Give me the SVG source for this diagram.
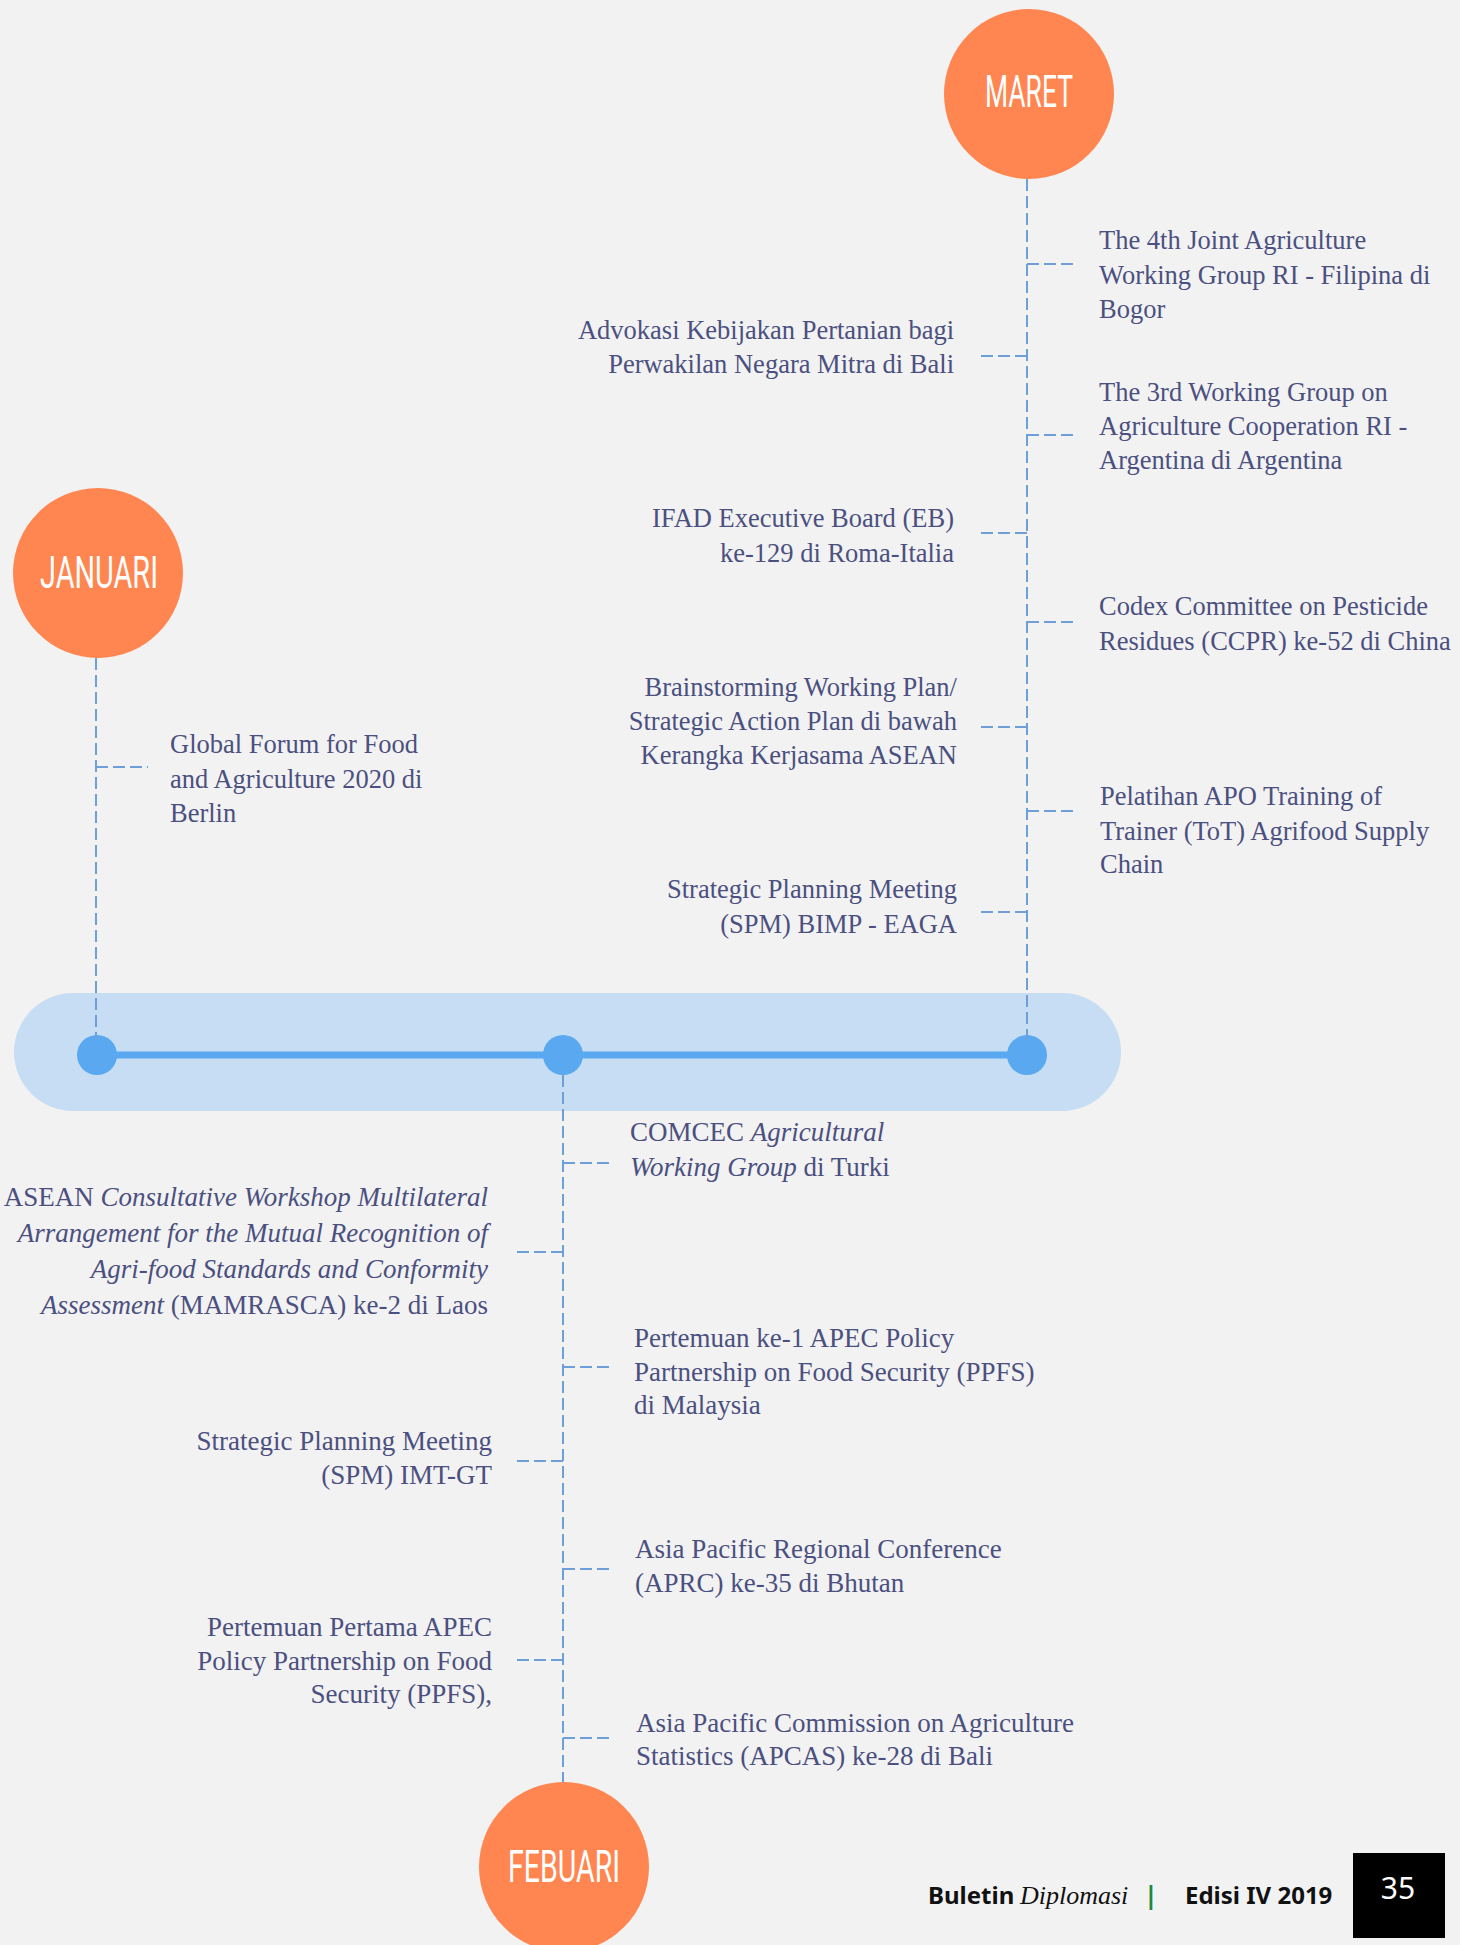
<svg xmlns="http://www.w3.org/2000/svg" width="1460" height="1945" viewBox="0 0 1460 1945">
<style>
.bg{fill:#f2f2f2}
.month{fill:#ff8551}
.mlabel{fill:#ffffff;font-family:"Roboto","Liberation Sans Narrow","DejaVu Sans Condensed",sans-serif;font-weight:400;font-size:45px;text-anchor:middle}
.band{fill:#c6ddf3}
.axis{stroke:#5aa8f0;stroke-width:7;fill:none}
.dot{fill:#5aa8f0}
.dash{stroke:#6f9fd8;stroke-width:2;stroke-dasharray:12 5;fill:none}
.t{fill:#4b5080;font-family:"Liberation Serif","Times New Roman",serif;font-size:26.5px}
.b{fill:#4b5080;font-family:"Liberation Serif","Times New Roman",serif;font-size:27px}
.r{text-anchor:end}
.i{font-style:italic}
.foot{fill:#111111;font-family:"Noto Sans","Open Sans",sans-serif;font-weight:700;font-size:24px}
</style>
<rect class="bg" x="0" y="0" width="1460" height="1945"/>

<g id="timeline">
  <rect class="band" x="14" y="993" width="1107" height="118" rx="59" ry="59"/>
  <line class="axis" x1="97" y1="1055" x2="1027" y2="1055"/>
  <circle class="dot" cx="97" cy="1055" r="20"/>
  <circle class="dot" cx="563" cy="1055" r="20"/>
  <circle class="dot" cx="1027" cy="1055" r="20"/>
</g>

<g id="connectors">
  <!-- Januari -->
  <line class="dash" x1="96" y1="658" x2="96" y2="1040"/>
  <line class="dash" x1="96" y1="767" x2="148" y2="767"/>
  <!-- Maret -->
  <line class="dash" x1="1027" y1="179" x2="1027" y2="1040"/>
  <line class="dash" x1="1027" y1="264" x2="1078" y2="264"/>
  <line class="dash" x1="1027" y1="435" x2="1078" y2="435"/>
  <line class="dash" x1="1027" y1="622" x2="1078" y2="622"/>
  <line class="dash" x1="1027" y1="811" x2="1078" y2="811"/>
  <line class="dash" x1="1027" y1="356" x2="977" y2="356"/>
  <line class="dash" x1="1027" y1="533" x2="977" y2="533"/>
  <line class="dash" x1="1027" y1="727" x2="979" y2="727"/>
  <line class="dash" x1="1027" y1="912" x2="979" y2="912"/>
  <!-- Febuari -->
  <line class="dash" x1="563" y1="1075" x2="563" y2="1783"/>
  <line class="dash" x1="563" y1="1163" x2="611" y2="1163"/>
  <line class="dash" x1="563" y1="1367" x2="611" y2="1367"/>
  <line class="dash" x1="563" y1="1569" x2="611" y2="1569"/>
  <line class="dash" x1="563" y1="1738" x2="611" y2="1738"/>
  <line class="dash" x1="563" y1="1252" x2="516" y2="1252"/>
  <line class="dash" x1="563" y1="1461" x2="516" y2="1461"/>
  <line class="dash" x1="563" y1="1660" x2="516" y2="1660"/>
</g>

<g id="maret">
  <circle class="month" cx="1029" cy="94" r="85"/>
  <text class="mlabel" x="1029" y="107" textLength="88" lengthAdjust="spacingAndGlyphs">MARET</text>
</g>
<g id="januari">
  <circle class="month" cx="98" cy="573" r="85"/>
  <text class="mlabel" x="99" y="588" textLength="118" lengthAdjust="spacingAndGlyphs">JANUARI</text>
</g>
<g id="febuari">
  <circle class="month" cx="564" cy="1867" r="85"/>
  <text class="mlabel" x="564" y="1882" textLength="112" lengthAdjust="spacingAndGlyphs">FEBUARI</text>
</g>

<g id="ev-global-forum">
  <text class="t" x="170" y="753">Global Forum for Food</text>
  <text class="t" x="170" y="788">and Agriculture 2020 di</text>
  <text class="t" x="170" y="822">Berlin</text>
</g>

<g id="ev-4th-joint">
  <text class="t" x="1099" y="249">The 4th Joint Agriculture</text>
  <text class="t" x="1099" y="284">Working Group RI - Filipina di</text>
  <text class="t" x="1099" y="318">Bogor</text>
</g>
<g id="ev-advokasi">
  <text class="t r" x="954" y="339">Advokasi Kebijakan Pertanian bagi</text>
  <text class="t r" x="954" y="373">Perwakilan Negara Mitra di Bali</text>
</g>
<g id="ev-3rd-wg">
  <text class="t" x="1099" y="401">The 3rd Working Group on</text>
  <text class="t" x="1099" y="435">Agriculture Cooperation RI -</text>
  <text class="t" x="1099" y="469">Argentina di Argentina</text>
</g>
<g id="ev-ifad">
  <text class="t r" x="954" y="527">IFAD Executive Board (EB)</text>
  <text class="t r" x="954" y="562">ke-129 di Roma-Italia</text>
</g>
<g id="ev-codex">
  <text class="t" x="1099" y="615">Codex Committee on Pesticide</text>
  <text class="t" x="1099" y="650">Residues (CCPR) ke-52 di China</text>
</g>
<g id="ev-brainstorming">
  <text class="t r" x="957" y="696">Brainstorming Working Plan/</text>
  <text class="t r" x="957" y="730">Strategic Action Plan di bawah</text>
  <text class="t r" x="957" y="764">Kerangka Kerjasama ASEAN</text>
</g>
<g id="ev-apo">
  <text class="t" x="1100" y="805">Pelatihan APO Training of</text>
  <text class="t" x="1100" y="840">Trainer (ToT) Agrifood Supply</text>
  <text class="t" x="1100" y="873">Chain</text>
</g>
<g id="ev-spm-bimp">
  <text class="t r" x="957" y="898">Strategic Planning Meeting</text>
  <text class="t r" x="957" y="933">(SPM) BIMP - EAGA</text>
</g>

<g id="ev-comcec">
  <text class="b" x="630" y="1141">COMCEC <tspan class="i">Agricultural</tspan></text>
  <text class="b" x="630" y="1176"><tspan class="i">Working Group</tspan> di Turki</text>
</g>
<g id="ev-mamrasca">
  <text class="b r" x="488" y="1206">ASEAN <tspan class="i">Consultative Workshop Multilateral</tspan></text>
  <text class="b r i" x="488" y="1242">Arrangement for the Mutual Recognition of</text>
  <text class="b r i" x="488" y="1278">Agri-food Standards and Conformity</text>
  <text class="b r" x="488" y="1314"><tspan class="i">Assessment</tspan> (MAMRASCA) ke-2 di Laos</text>
</g>
<g id="ev-ppfs-malaysia">
  <text class="b" x="634" y="1347">Pertemuan ke-1 APEC Policy</text>
  <text class="b" x="634" y="1381">Partnership on Food Security (PPFS)</text>
  <text class="b" x="634" y="1414">di Malaysia</text>
</g>
<g id="ev-spm-imt">
  <text class="b r" x="492" y="1450">Strategic Planning Meeting</text>
  <text class="b r" x="492" y="1484">(SPM) IMT-GT</text>
</g>
<g id="ev-aprc">
  <text class="b" x="635" y="1558">Asia Pacific Regional Conference</text>
  <text class="b" x="635" y="1592">(APRC) ke-35 di Bhutan</text>
</g>
<g id="ev-ppfs-pertama">
  <text class="b r" x="492" y="1636">Pertemuan Pertama APEC</text>
  <text class="b r" x="492" y="1670">Policy Partnership on Food</text>
  <text class="b r" x="492" y="1703">Security (PPFS),</text>
</g>
<g id="ev-apcas">
  <text class="b" x="636" y="1732">Asia Pacific Commission on Agriculture</text>
  <text class="b" x="636" y="1765">Statistics (APCAS) ke-28 di Bali</text>
</g>

<g id="footer">
  <text class="foot" x="928" y="1904">Buletin</text>
  <text x="1020" y="1904" font-family="Liberation Serif, serif" font-style="italic" font-size="26" fill="#111111">Diplomasi</text>
  <text x="1151" y="1904" font-family="Noto Sans, sans-serif" font-weight="700" font-size="25" fill="#1e8a3c" text-anchor="middle">|</text>
  <text class="foot" x="1185" y="1904">Edisi IV 2019</text>
  <rect x="1353" y="1853" width="92" height="85" fill="#000000"/>
  <text x="1398" y="1899" font-family="Noto Sans, sans-serif" font-size="30" fill="#ffffff" text-anchor="middle">35</text>
</g>
</svg>
